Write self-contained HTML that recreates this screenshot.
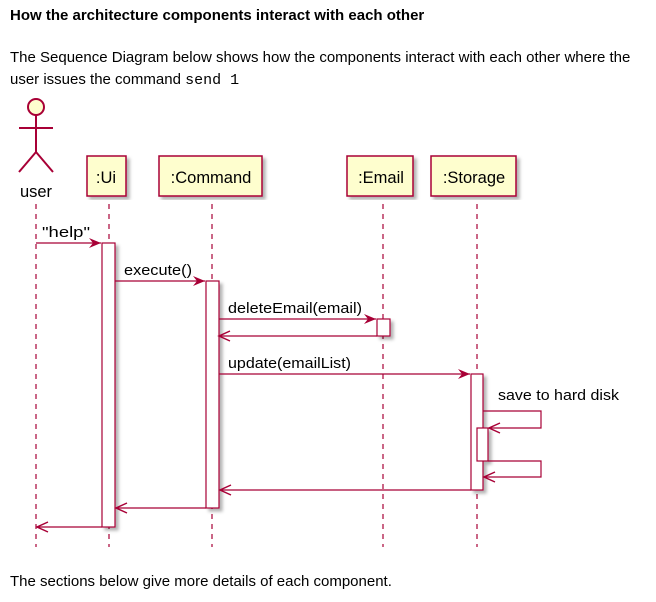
<!DOCTYPE html>
<html><head><style>
body{margin:0;width:656px;height:602px;background:#fff;font-family:"Liberation Sans",sans-serif;color:#000;position:relative;overflow:hidden}
.t{position:absolute;left:10px;font-size:15px;white-space:nowrap}
code{font-family:"Liberation Mono",monospace;font-size:15px}
</style></head><body>
<div class="t" style="top:7px;font-weight:bold;font-size:15px">How the architecture components interact with each other</div>
<div class="t" style="top:49px">The Sequence Diagram below shows how the components interact with each other where the</div>
<div class="t" style="top:71px">user issues the command <code>send 1</code></div>
<div class="t" style="top:573px">The sections below give more details of each component.</div>
<svg width="656" height="602" style="position:absolute;left:0;top:0" font-family="Liberation Sans,sans-serif">
<defs>
<filter id="sh"><feDropShadow dx="3" dy="3" stdDeviation="1.5" flood-color="#000" flood-opacity="0.3"/></filter>
</defs>
<g stroke="#A80036" stroke-width="1.2" stroke-dasharray="5,5" fill="none">
<line x1="36" y1="204" x2="36" y2="547"/>
<line x1="109" y1="204" x2="109" y2="547"/>
<line x1="212" y1="204" x2="212" y2="547"/>
<line x1="383" y1="204" x2="383" y2="547"/>
<line x1="477" y1="204" x2="477" y2="547"/>
</g>
<g stroke="#A80036" stroke-width="2" fill="none">
<circle cx="36" cy="107" r="8" fill="#FEFECE"/>
<line x1="36" y1="115" x2="36" y2="152"/>
<line x1="19" y1="128" x2="53" y2="128"/>
<polyline points="19,172 36,152 53,172"/>
</g>
<text x="36" y="197" font-size="16.5" text-anchor="middle" fill="#000">user</text>
<g fill="#FEFECE" stroke="#A80036" stroke-width="1.5" filter="url(#sh)">
<rect x="87" y="156" width="39" height="40"/>
<rect x="159" y="156" width="103" height="40"/>
<rect x="347" y="156" width="66" height="40"/>
<rect x="431" y="156" width="85" height="40"/>
</g>
<g font-size="16.5" text-anchor="middle" fill="#000">
<text x="106" y="183">:Ui</text>
<text x="211" y="183">:Command</text>
<text x="381" y="183">:Email</text>
<text x="474" y="183">:Storage</text>
</g>
<g fill="#fff" stroke="#A80036" stroke-width="1.2" filter="url(#sh)">
<rect x="102" y="243" width="13" height="284"/>
<rect x="206" y="281" width="13" height="227"/>
<rect x="377" y="319" width="13" height="17"/>
<rect x="471" y="374" width="12" height="116"/>
<rect x="477" y="428" width="11" height="33"/>
</g>
<g stroke="#A80036" stroke-width="1.2" fill="none">
<line x1="36" y1="243" x2="101" y2="243"/>
<line x1="115" y1="281" x2="205" y2="281"/>
<line x1="219" y1="319" x2="376" y2="319"/>
<line x1="377" y1="336" x2="220" y2="336"/>
<line x1="219" y1="374" x2="470" y2="374"/>
<polyline points="483,411 541,411 541,428 489,428"/>
<polyline points="488,461 541,461 541,477 484,477"/>
<line x1="471" y1="490" x2="220" y2="490"/>
<line x1="206" y1="508" x2="116" y2="508"/>
<line x1="102" y1="527" x2="37" y2="527"/>
</g>
<g fill="#A80036">
<polygon points="101,243 89,238 93,243 89,248"/>
<polygon points="205,281 193,276 197,281 193,286"/>
<polygon points="376,319 364,314 368,319 364,324"/>
<polygon points="470,374 458,369 462,374 458,379"/>
</g>
<g stroke="#A80036" stroke-width="1.5" fill="none">
<polyline points="230,331 219,336 230,341"/>
<polyline points="500,423 489,428 500,433"/>
<polyline points="495,472 484,477 495,482"/>
<polyline points="231,485 220,490 231,495"/>
<polyline points="127,503 116,508 127,513"/>
<polyline points="48,522 37,527 48,532"/>
</g>
<g font-size="15" fill="#000" textLength="0">
<text x="42" y="237" textLength="48" lengthAdjust="spacingAndGlyphs">"help"</text>
<text x="124" y="275" textLength="68" lengthAdjust="spacingAndGlyphs">execute()</text>
<text x="228" y="313" textLength="134" lengthAdjust="spacingAndGlyphs">deleteEmail(email)</text>
<text x="228" y="368" textLength="123" lengthAdjust="spacingAndGlyphs">update(emailList)</text>
<text x="498" y="400" textLength="121" lengthAdjust="spacingAndGlyphs">save to hard disk</text>
</g>
</svg>
</body></html>
